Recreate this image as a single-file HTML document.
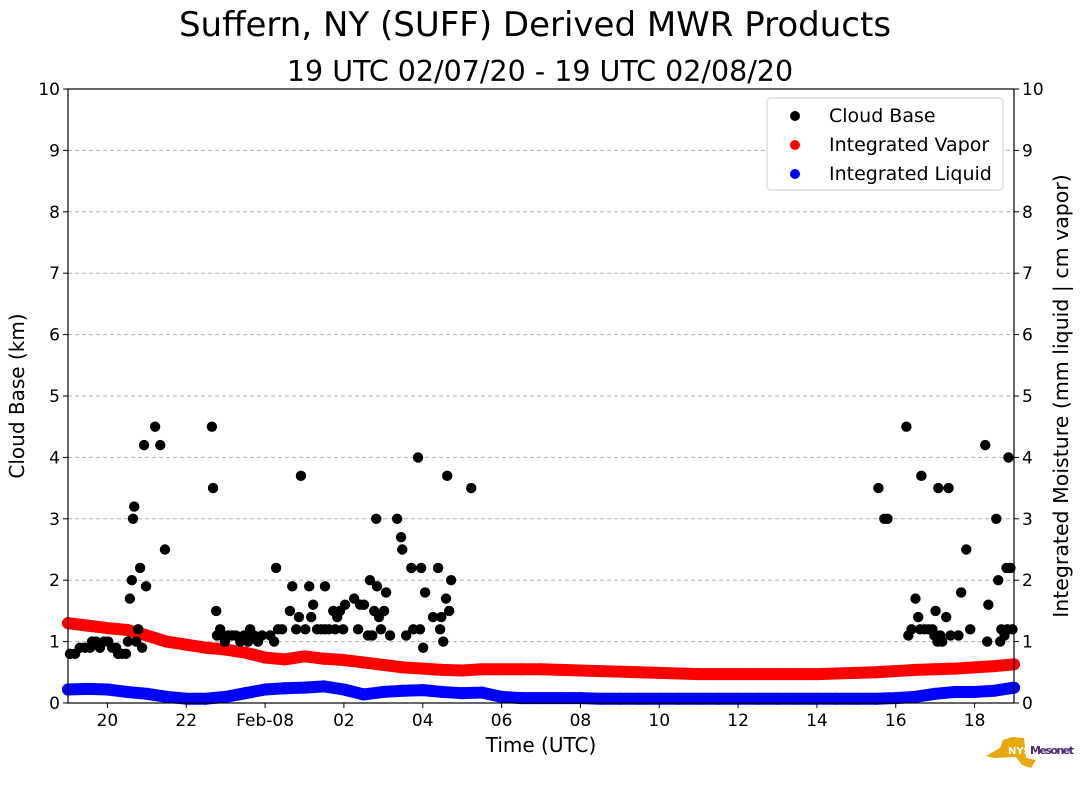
<!DOCTYPE html>
<html><head><meta charset="utf-8"><style>
body{margin:0;background:#fff;font-family:"Liberation Sans","DejaVu Sans",sans-serif}
svg text{font-family:"DejaVu Sans","Liberation Sans",sans-serif}
</style></head><body>
<svg id="c" width="1089" height="804">
<text x="535" y="36" font-size="34" text-anchor="middle">Suffern, NY (SUFF) Derived MWR Products</text>
<text x="540" y="81" font-size="28.5" text-anchor="middle">19 UTC 02/07/20 - 19 UTC 02/08/20</text>
<g id="grid"></g><g id="marks"></g><g id="axes"></g>
<text x="24" y="396" font-size="20" text-anchor="middle" transform="rotate(-90 24 396)">Cloud Base (km)</text>
<text x="1068" y="396" font-size="20.5" text-anchor="middle" transform="rotate(-90 1068 396)">Integrated Moisture (mm liquid | cm vapor)</text>
<text x="541" y="752" font-size="20" text-anchor="middle">Time (UTC)</text>
<g>
<rect x="767" y="98" width="236" height="92" rx="4" fill="#fff" stroke="#ccc"/>
<circle cx="795" cy="116" r="5" fill="#000"/><text x="829" y="122" font-size="19">Cloud Base</text>
<circle cx="795" cy="145" r="5" fill="red"/><text x="829" y="151" font-size="19">Integrated Vapor</text>
<circle cx="795" cy="174" r="5" fill="blue"/><text x="829" y="180" font-size="19">Integrated Liquid</text>
</g>
<g>
<path d="M986,756 L1000,748 L1003,740 L1012,737 L1024,738 L1026,758 L1036,760 L1031,768 L1022,765 L1016,757 L994,758 Z" fill="#e8a810"/>
<text x="1008" y="754" font-size="10" font-weight="bold" fill="#fff">NYS</text>
<text x="1030" y="754" font-size="11" font-weight="bold" fill="#4b2a6e" textLength="44">Mesonet</text>
</g>
</svg>
<script>
const cbHours=[19.05,19.18,19.30,19.43,19.56,19.61,19.71,19.81,19.91,20.02,20.12,20.22,20.27,20.37,20.47,20.52,20.57,20.62,20.65,20.68,20.73,20.78,20.83,20.88,20.93,20.98,21.21,21.34,21.46,22.65,22.68,22.76,22.78,22.86,22.91,22.98,23.06,23.16,23.26,23.37,23.47,23.57,23.62,23.72,23.82,23.92,24.13,24.23,24.28,24.33,24.43,24.63,24.69,24.79,24.86,24.91,25.02,25.12,25.17,25.22,25.32,25.42,25.52,25.52,25.62,25.73,25.78,25.83,25.90,25.98,26.03,26.26,26.36,26.41,26.51,26.61,26.66,26.72,26.77,26.82,26.84,26.89,26.94,27.02,27.07,27.17,27.35,27.45,27.48,27.58,27.71,27.76,27.88,27.93,27.96,28.01,28.06,28.26,28.39,28.44,28.47,28.52,28.59,28.62,28.67,28.72,29.23,39.56,39.71,39.79,40.27,40.32,40.40,40.50,40.57,40.62,40.65,40.73,40.83,40.93,40.98,41.01,41.06,41.08,41.13,41.18,41.28,41.34,41.39,41.59,41.66,41.79,41.89,42.27,42.32,42.35,42.55,42.60,42.65,42.68,42.76,42.81,42.83,42.86,42.91,42.96];
const cbKm=[0.8,0.8,0.9,0.9,0.9,1.0,1.0,0.9,1.0,1.0,0.9,0.9,0.8,0.8,0.8,1.0,1.7,2.0,3.0,3.2,1.0,1.2,2.2,0.9,4.2,1.9,4.5,4.2,2.5,4.5,3.5,1.5,1.1,1.2,1.1,1.0,1.1,1.1,1.1,1.0,1.1,1.0,1.2,1.1,1.0,1.1,1.1,1.0,2.2,1.2,1.2,1.5,1.9,1.2,1.4,3.7,1.2,1.9,1.4,1.6,1.2,1.2,1.9,1.2,1.2,1.5,1.2,1.4,1.5,1.2,1.6,1.7,1.2,1.6,1.6,1.1,2.0,1.1,1.5,3.0,1.9,1.4,1.2,1.5,1.8,1.1,3.0,2.7,2.5,1.1,2.2,1.2,4.0,1.2,2.2,0.9,1.8,1.4,2.2,1.2,1.4,1.0,1.7,3.7,1.5,2.0,3.5,3.5,3.0,3.0,4.5,1.1,1.2,1.7,1.4,1.2,3.7,1.2,1.2,1.2,1.1,1.5,1.0,3.5,1.1,1.0,1.4,3.5,1.1,1.1,1.8,2.5,1.2,4.2,1.0,1.6,3.0,2.0,1.0,1.2,1.1,2.2,1.2,4.0,2.2,1.2];
const vapor=[1.30,1.26,1.22,1.19,1.10,1.00,0.95,0.90,0.87,0.82,0.74,0.71,0.76,0.72,0.70,0.66,0.62,0.58,0.56,0.54,0.53,0.55,0.55,0.55,0.55,0.54,0.53,0.52,0.51,0.50,0.49,0.48,0.47,0.47,0.47,0.47,0.47,0.47,0.47,0.48,0.49,0.50,0.52,0.54,0.55,0.56,0.58,0.60,0.63];
const liquid=[0.22,0.23,0.22,0.18,0.15,0.10,0.07,0.07,0.10,0.16,0.22,0.24,0.25,0.27,0.22,0.14,0.18,0.20,0.21,0.18,0.16,0.17,0.10,0.08,0.08,0.08,0.08,0.07,0.07,0.07,0.07,0.07,0.07,0.07,0.07,0.07,0.07,0.07,0.07,0.07,0.07,0.07,0.08,0.10,0.15,0.18,0.18,0.20,0.25];
const xTickHours=[20,22,24,26,28,30,32,34,36,38,40,42];
const xTickLabels=["20","22","Feb-08","02","04","06","08","10","12","14","16","18"];
const yTicks=[0,1,2,3,4,5,6,7,8,9,10];
const X0=68,X1=1014,Y0=703,Y1=89;
const xs=h=>X0+(h-19)/24*(X1-X0);
const ys=v=>Y0-v/10*(Y0-Y1);
const NS="http://www.w3.org/2000/svg";
function mk(p,t,a){const e=document.createElementNS(NS,t);for(const k in a)e.setAttribute(k,a[k]);p.appendChild(e);return e;}
const grid=document.getElementById('grid'),marks=document.getElementById('marks'),axes=document.getElementById('axes');
yTicks.forEach(v=>{
 if(v>0&&v<10){const g=mk(grid,'line',{x1:X0,x2:X1,y1:ys(v),y2:ys(v),stroke:'#b0b0b0','stroke-dasharray':'4,3'});
 
 }
 [[X0,-1,'end',-8],[X1,1,'start',8]].forEach(([x,d,anc,o])=>{
  mk(axes,'line',{x1:x,x2:x+d*5,y1:ys(v),y2:ys(v),stroke:'#000'});
  const t=mk(axes,'text',{x:x+o,y:ys(v)+6,'font-size':17,'text-anchor':anc});t.textContent=v;
  
  
 });
});
xTickHours.forEach((h,i)=>{
 mk(axes,'line',{x1:xs(h),x2:xs(h),y1:Y0,y2:Y0+5,stroke:'#000'});
 const t=mk(axes,'text',{x:xs(h),y:Y0+23,'font-size':17,'text-anchor':'middle'});t.textContent=xTickLabels[i];
 
 
});
mk(axes,'rect',{x:X0,y:Y1,width:X1-X0,height:Y0-Y1,fill:'none',stroke:'#000','stroke-width':1.2});
function band(arr,col,name){
 const pts=arr.map((v,i)=>xs(19+i*0.5)+','+ys(v)).join(' ');
 const l=mk(marks,'polyline',{points:pts,fill:'none',stroke:col,'stroke-width':12,'stroke-linecap':'round','stroke-linejoin':'round'});
 
 
 arr.forEach((v,i)=>{const c=mk(marks,'circle',{cx:xs(19+i*0.5),cy:ys(v),r:6,fill:col});
  
  });
}
band(vapor,'red','integrated-vapor');
band(liquid,'blue','integrated-liquid');
cbHours.forEach((h,i)=>{const c=mk(marks,'circle',{cx:xs(h),cy:ys(cbKm[i]),r:5.2,fill:'#000'});
 
 });
</script>
</body></html>
